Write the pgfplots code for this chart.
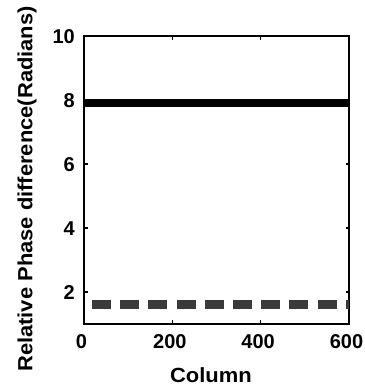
\documentclass[border=0pt]{standalone}
\usepackage{fontspec}
\setmainfont{Liberation Sans}[FakeStretch=1.07]
\newfontfamily\tickfont{Liberation Sans}
\usepackage{pgfplots}
\pgfplotsset{compat=1.18}
\begin{document}
\begin{tikzpicture}[x=1pt,y=1pt]
\path[use as bounding box] (0,0) rectangle (364,387);
\begin{axis}[
  at={(84pt,63pt)}, anchor=south west,
  scale only axis, width=265pt, height=288pt,
  xmin=0, xmax=600, ymin=1, ymax=10,
  xtick={0,200,400,600}, ytick={2,4,6,8,10},
  tick align=inside, major tick length=3.5pt,
  axis line style={line width=1.3pt}, tick style={line width=1.1pt, black},
  /pgf/number format/assume math mode=true,
  tick label style={font=\tickfont\fontsize{20}{22}\selectfont\bfseries},
  xticklabel style={inner sep=0pt, yshift=-10.5pt, xshift=-2.5pt},
  yticklabel style={inner sep=0pt, xshift=-9pt, yshift=-1pt},
  label style={font=\fontsize{20.5}{22}\selectfont\bfseries},
  xlabel={Column},
  ylabel={Relative Phase difference(Radians)},
  xlabel style={at={(axis description cs:0.479,-0.177)}, anchor=center},
  ylabel style={at={(axis description cs:-0.215,0.469)}, anchor=center},
  clip=true,
]
\addplot[black, line width=7.8pt] coordinates {(0,7.91) (600,7.91)};
\addplot[color={rgb,255:red,58;green,58;blue,58}, line width=9pt, dash pattern=on 19pt off 9.2pt, dash phase=20.3pt] coordinates {(0,1.60) (600,1.60)};
\end{axis}
\end{tikzpicture}
\end{document}
